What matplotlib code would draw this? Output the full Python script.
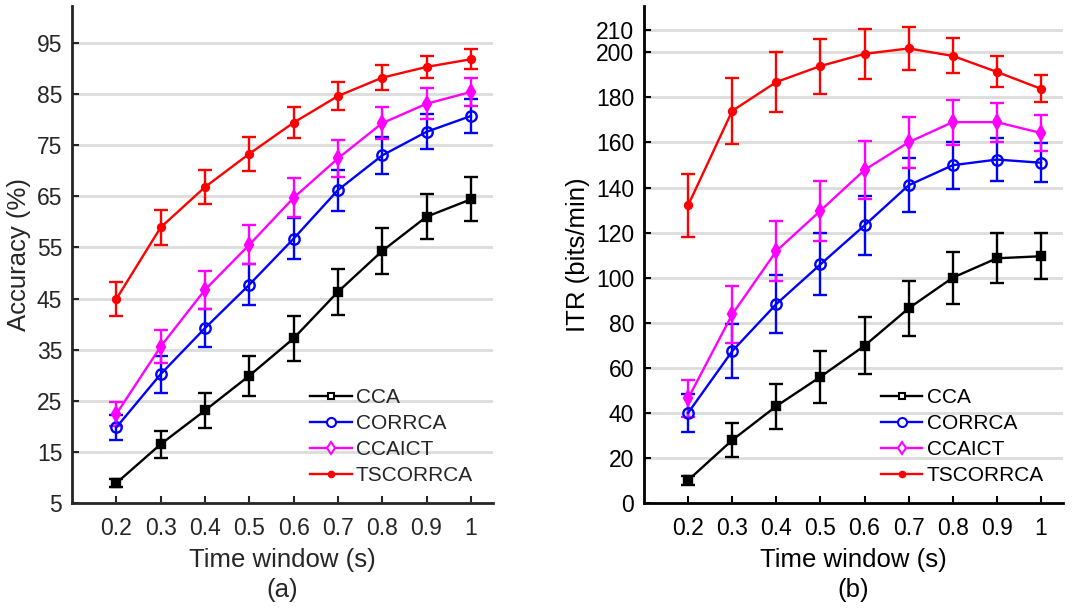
"""Accuracy and ITR vs time window for four SSVEP methods (panels a and b)."""
import matplotlib
matplotlib.use("Agg")
import matplotlib.pyplot as plt
from matplotlib.lines import Line2D

plt.rcParams["font.family"] = ["Liberation Sans", "DejaVu Sans"]

windows = [0.2, 0.3, 0.4, 0.5, 0.6, 0.7, 0.8, 0.9, 1.0]
methods = ["CCA", "CORRCA", "CCAICT", "TSCORRCA"]

acc_cca = [8.9, 16.5, 23.1, 29.9, 37.2, 46.3, 54.3, 61.0, 64.4]
acc_cca_err = [0.8, 2.6, 3.5, 3.9, 4.4, 4.5, 4.5, 4.4, 4.3]
acc_corrca = [19.8, 30.2, 39.2, 47.7, 56.7, 66.2, 73.0, 77.6, 80.7]
acc_corrca_err = [2.5, 3.6, 3.7, 4.0, 4.0, 4.0, 3.6, 3.4, 3.4]
acc_ccaict = [22.4, 35.6, 46.7, 55.5, 64.7, 72.4, 79.3, 83.1, 85.4]
acc_ccaict_err = [2.3, 3.2, 3.7, 3.8, 3.8, 3.6, 3.1, 3.0, 2.8]
acc_tscorrca = [44.9, 58.9, 66.8, 73.3, 79.4, 84.6, 88.2, 90.3, 91.8]
acc_tscorrca_err = [3.3, 3.4, 3.4, 3.3, 3.0, 2.8, 2.4, 2.1, 2.0]

itr_cca = [10.1, 27.9, 43.0, 56.0, 69.8, 86.4, 100.0, 108.6, 109.5]
itr_cca_err = [2.0, 7.4, 10.0, 11.5, 12.6, 12.2, 11.5, 11.0, 10.3]
itr_corrca = [40.0, 67.4, 88.3, 105.9, 123.2, 141.0, 149.9, 152.4, 151.0]
itr_corrca_err = [8.5, 12.0, 12.8, 13.7, 13.1, 12.0, 10.4, 9.7, 8.7]
itr_ccaict = [46.4, 83.7, 111.8, 129.7, 147.8, 160.1, 169.0, 169.0, 164.2]
itr_ccaict_err = [8.4, 12.6, 13.5, 13.3, 12.7, 11.4, 10.0, 8.6, 8.0]
itr_tscorrca = [132.1, 174.0, 186.8, 193.9, 199.3, 201.7, 198.4, 191.3, 183.8]
itr_tscorrca_err = [14.1, 14.5, 13.4, 12.2, 11.0, 9.4, 7.8, 6.9, 6.0]

acc_ticks = [5, 15, 25, 35, 45, 55, 65, 75, 85, 95]
itr_ticks = [0, 20, 40, 60, 80, 100, 120, 140, 160, 180, 200, 210]
x_ticklabels = ["0.2", "0.3", "0.4", "0.5", "0.6", "0.7", "0.8", "0.9", "1"]

# marker, colour, filled in plot?, marker size, filled in legend?
STYLE = {
    "CCA": ("s", "black", True, 6, False),
    "CORRCA": ("o", "blue", False, 7.5, False),
    "CCAICT": ("d", "magenta", True, 7, False),
    "TSCORRCA": ("o", "red", True, 5, True),
}


def draw(ax, series, ticks, ylim, ylabel, panel, txtcol):
    handles = []
    for name, (y, err) in zip(methods, series):
        mk, col, filled, ms, leg_filled = STYLE[name]
        ax.errorbar(windows, y, yerr=err, fmt=mk + "-", color=col, ecolor=col,
                    lw=1.7, elinewidth=1.7, capsize=5, capthick=1.7, ms=ms,
                    mew=1.7, mfc=col if filled else "none", zorder=3)
        handles.append(Line2D([], [], color=col, lw=1.7, marker=mk, ms=ms - 1,
                              mew=1.5, mfc=col if leg_filled else "white",
                              label=name))
    ax.set_xlim(0.1, 1.05)
    ax.set_ylim(*ylim)
    ax.set_xticks(windows)
    ax.set_xticklabels(x_ticklabels)
    ax.set_yticks(ticks)
    ax.yaxis.grid(True, color="#dcdcdc", lw=2)
    ax.set_axisbelow(True)
    for s in ("top", "right"):
        ax.spines[s].set_visible(False)
    for s in ("left", "bottom"):
        ax.spines[s].set_linewidth(2)
        ax.spines[s].set_color(txtcol)
    ax.tick_params(direction="in", length=5, width=1.5, labelsize=16.5,
                   colors=txtcol, pad=7)
    ax.tick_params(axis="x", pad=10)
    ax.set_xlabel("Time window (s)\n" + panel, fontsize=18.5, color=txtcol,
                  linespacing=1.3, labelpad=6)
    ax.set_ylabel(ylabel, fontsize=18.5, color=txtcol, labelpad=4)
    leg = ax.legend(handles=handles, loc="upper left", bbox_to_anchor=(0.565, 0.231),
                    frameon=False, fontsize=15, handlelength=2.0,
                    handletextpad=0.2, labelspacing=0.33, borderpad=0,
                    borderaxespad=0)
    for t in leg.get_texts():
        t.set_color(txtcol)


fig = plt.figure(figsize=(10.78, 6.09), dpi=100)
ax1 = fig.add_axes([0.0668, 0.174, 0.3905, 0.816])
ax2 = fig.add_axes([0.5974, 0.174, 0.3887, 0.816])

draw(ax1, [(acc_cca, acc_cca_err), (acc_corrca, acc_corrca_err),
           (acc_ccaict, acc_ccaict_err), (acc_tscorrca, acc_tscorrca_err)],
     acc_ticks, (5, 102.2), "Accuracy (%)", "(a)", "#262626")
draw(ax2, [(itr_cca, itr_cca_err), (itr_corrca, itr_corrca_err),
           (itr_ccaict, itr_ccaict_err), (itr_tscorrca, itr_tscorrca_err)],
     itr_ticks, (0, 220.5), "ITR (bits/min)", "(b)", "black")

fig.savefig("out.png", dpi=100)
